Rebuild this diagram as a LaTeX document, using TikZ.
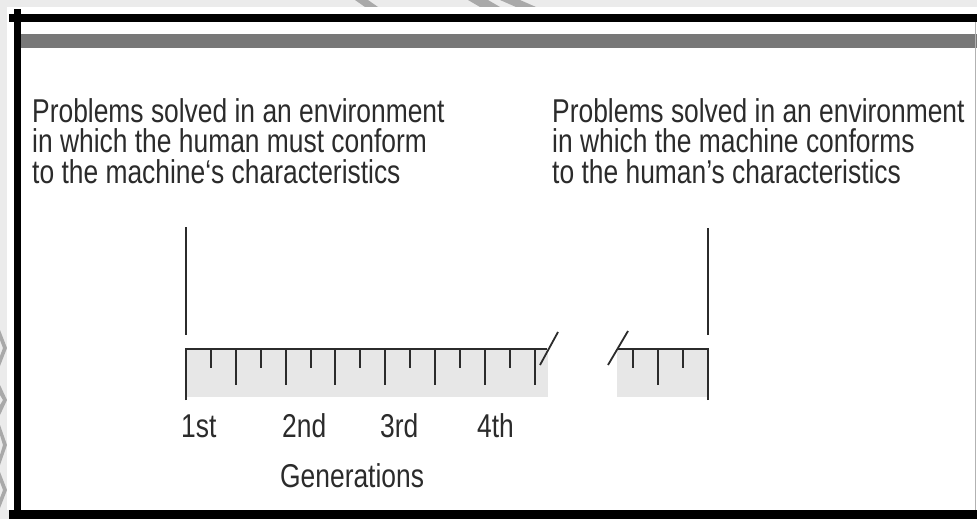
\documentclass[tikz,border=0pt]{standalone}
\usepackage{fontspec}
\setmainfont[FakeStretch=0.80]{Liberation Sans}
\definecolor{margin}{HTML}{EBEBEB}
\definecolor{wm}{HTML}{A9A9A9}
\definecolor{barg}{HTML}{787878}
\definecolor{rulefill}{HTML}{E7E7E7}
\definecolor{ink}{HTML}{2B2B2B}
\begin{document}
\begin{tikzpicture}[x=1pt,y=-1pt,
  txt/.style={anchor=base west,inner sep=0pt,text=ink,text height=21pt,text depth=4pt,font=\fontsize{33}{30}\selectfont},
  rulerline/.style={draw=ink,line width=2pt,line cap=butt},
  leader/.style={draw=ink,line width=1.6pt},
  slash/.style={draw=ink,line width=1.8pt}]
\useasboundingbox (0,0) rectangle (977,519);
% background and watermark
\fill[margin] (0,0) rectangle (977,519);
\fill[wm] (355,0) -- (368,0) -- (378,7) -- (365,7) -- cycle;
\fill[wm] (468,0) -- (488,0) -- (500,7) -- (480,7) -- cycle;
\fill[wm] (500,0) -- (520,0) -- (536,7) -- (516,7) -- cycle;
\fill[wm] (0,330) -- (7,348) -- (0,366) -- (0,356) -- (3,348) -- (0,340) -- cycle;
\fill[wm] (0,385) -- (7,400) -- (0,415) -- (0,405) -- (3,400) -- (0,395) -- cycle;
\fill[wm] (0,425) -- (7,445) -- (0,465) -- (0,455) -- (3,445) -- (0,435) -- cycle;
\fill[wm] (0,472) -- (7,490) -- (0,508) -- (0,498) -- (3,490) -- (0,482) -- cycle;
\fill[white] (7,7) rectangle (977,510);
% frame
\fill[black] (9,14) rectangle (977,22);
\fill[black] (14,9) rectangle (21,510);
\fill[black] (9,510) rectangle (977,519);
\fill[barg] (21,34) rectangle (977,48.5);
\draw[gray!60,line width=1pt] (975.5,22) -- (975.5,510);
% texts
\node[txt] (l1) at (32,122) {Problems solved in an environment};
\node[txt] (l2) at (32,152.5) {in which the human must conform};
\node[txt] (l3) at (32,183) {to the machine‘s characteristics};
\node[txt] (r1) at (552,122) {Problems solved in an environment};
\node[txt] (r2) at (552,152.5) {in which the machine conforms};
\node[txt] (r3) at (552,183) {to the human’s characteristics};
% ruler fills
\fill[rulefill] (186,349) rectangle (548,397);
\fill[rulefill] (617,349) rectangle (708,397);
% coordinates
\coordinate (a0) at (186,349);
\coordinate (abot) at (186,400);
\coordinate (aend) at (547,349);
\coordinate (b0) at (708,349);
\coordinate (bbot) at (708,400);
\coordinate (bend) at (617,349);
\coordinate (ltop) at (186,227);
\coordinate (lbot) at (186,335);
\coordinate (rtop) at (708,228);
\coordinate (rbot) at (708,335);
\coordinate (s1a) at (540,365);
\coordinate (s1b) at (558,332);
\coordinate (s2a) at (608,365);
\coordinate (s2b) at (628,331);
% ruler lines
\draw[rulerline] (abot) -- (a0) -- (aend);
\draw[rulerline] (bbot) -- (b0) -- (bend);
\foreach \k in {1,...,14}{
  \pgfmathsetmacro{\xx}{186+24.9*\k}
  \ifodd\k
    \draw[rulerline] (\xx,349) -- (\xx,368);
  \else
    \draw[rulerline] (\xx,349) -- (\xx,385);
  \fi
}
\draw[rulerline] (633,349) -- (633,368);
\draw[rulerline] (658,349) -- (658,385);
\draw[rulerline] (683,349) -- (683,368);
\draw[slash] (s1a) -- (s1b);
\draw[slash] (s2a) -- (s2b);
% leader lines
\draw[leader] (ltop) -- (lbot);
\draw[leader] (rtop) -- (rbot);
% labels
\node[txt] (g1) at (181,437) {1st};
\node[txt] (g2) at (282,437) {2nd};
\node[txt] (g3) at (380,437) {3rd};
\node[txt] (g4) at (477,437) {4th};
\node[txt] (gen) at (280,487) {Generations};
\end{tikzpicture}
\end{document}
